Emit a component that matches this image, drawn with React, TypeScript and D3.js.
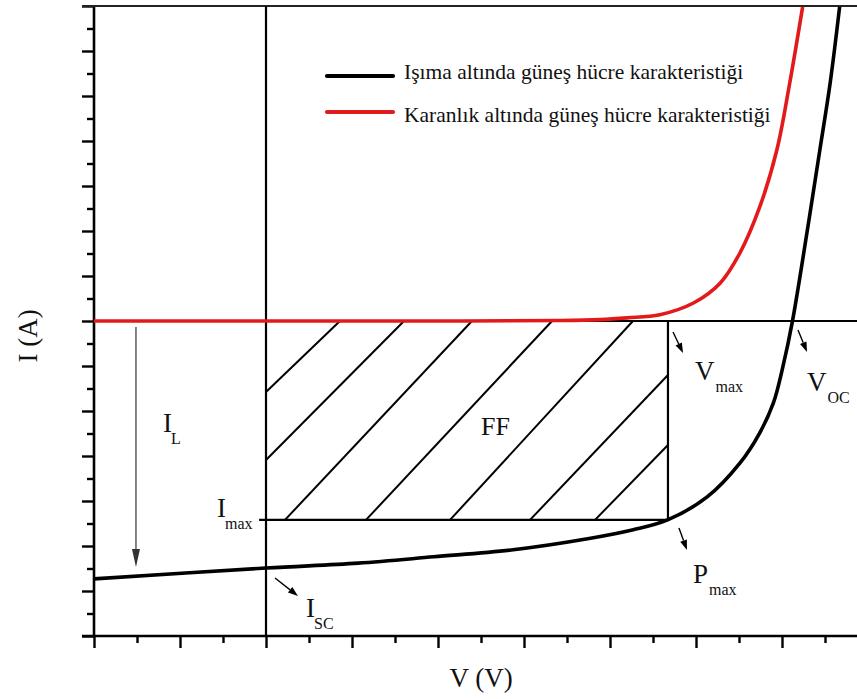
import React, { useEffect, useRef } from 'react'
import * as d3 from 'd3'

// tick positions (arbitrary units, the original axes carry no numbers)
const vMajor = [-2, -1, 0, 1, 2, 3, 4, 5, 6, 7]
const vMinor = [-1.5, -0.5, 0.5, 1.5, 2.5, 3.5, 4.5, 5.5, 6.5]
const iMajor = [-7, -6, -5, -4, -3, -2, -1, 0, 1, 2, 3, 4, 5, 6, 7]
const iMinor = [-6.5, -5.5, -4.5, -3.5, -2.5, -1.5, -0.5, 0.5, 1.5, 2.5, 3.5, 4.5, 5.5, 6.5]

// illuminated cell I-V curve
const lightV = [-2, 0, 1.07, 1.95, 2.85, 3.74, 4.27, 4.67, 5.13, 5.51, 5.74, 5.9, 6.01, 6.12, 6.29, 6.44, 6.56, 6.67]
const lightI = [-5.73, -5.49, -5.38, -5.24, -5.09, -4.84, -4.64, -4.42, -3.91, -3.16, -2.49, -1.82, -1.02, -0.02, 1.96, 3.8, 5.29, 6.98]

// dark cell I-V curve
const darkV = [-2, 0, 2, 3.42, 3.88, 4.2, 4.58, 4.97, 5.28, 5.51, 5.74, 5.94, 6.09, 6.24]
const darkI = [0, 0, 0, 0.01, 0.03, 0.07, 0.14, 0.4, 0.84, 1.51, 2.53, 3.8, 5.29, 6.98]

// maximum power point
const vMax = 4.674
const iMax = -4.42

// hatch lines inside the FF rectangle
const hatchFrom = [[0, -1.578], [0, -3.09], [0.221, -4.42], [1.163, -4.42], [2.14, -4.42], [3.07, -4.42], [3.826, -4.42]]
const hatchTo = [[0.86, 0], [1.605, 0], [2.395, 0], [3.326, 0], [4.267, 0], [4.674, -1.2], [4.674, -2.756]]

// annotation labels: main letter, subscript, position
const labelMain = ['I', 'I', 'V', 'V', 'P', 'I']
const labelSub = ['L', 'max', 'max', 'OC', 'max', 'SC']
const labelPos = [[-1.198, -2.467], [-0.57, -4.356], [4.988, -1.311], [6.291, -1.556], [4.965, -5.822], [0.465, -6.578]]

// small arrows pointing at the characteristic points
const arrowFrom = [[0.105, -5.711], [4.733, -0.244], [6.186, -0.2], [4.802, -4.6]]
const arrowTo = [[0.372, -6.111], [4.849, -0.711], [6.291, -0.689], [4.895, -5.089]]

const legendNames = ['Işıma altında güneş hücre karakteristiği', 'Karanlık altında güneş hücre karakteristiği']
const legendColors = ['#000000', '#e31a1c']

const W = 857
const H = 699
const FONT = 'Liberation Serif, DejaVu Serif, serif'

export default function App() {
    const svgRef = useRef<SVGSVGElement>(null)

    useEffect(() => {
        const svg = d3.select(svgRef.current)
        svg.selectAll('*').remove()

        const x = d3.scaleLinear().domain([-2, 7]).range([94, 868])
        const y = d3.scaleLinear().domain([-7, 7]).range([636, 6])

        const ticks = (g: any, axis: any, size: number) => {
            g.call(axis.tickSize(size).tickSizeOuter(0).tickFormat(() => ''))
            g.select('.domain').remove()
            g.selectAll('line').attr('stroke', '#000').attr('stroke-width', 2.4)
        }

        const yAx = svg.append('g').attr('transform', `translate(${x(-2)},0)`)
        ticks(yAx.append('g'), d3.axisLeft(y).tickValues(iMajor), 12)
        ticks(yAx.append('g'), d3.axisLeft(y).tickValues(iMinor), 7)
        const xAx = svg.append('g').attr('transform', `translate(0,${y(-7)})`)
        ticks(xAx.append('g'), d3.axisBottom(x).tickValues(vMajor), 12)
        ticks(xAx.append('g'), d3.axisBottom(x).tickValues(vMinor), 7)

        const line = (x1: number, y1: number, x2: number, y2: number, sw: number, color = '#000') =>
            svg.append('line')
                .attr('x1', x1).attr('y1', y1).attr('x2', x2).attr('y2', y2)
                .attr('stroke', color).attr('stroke-width', sw)

        // frame and zero lines
        line(x(-2), y(7), x(-2), y(-7), 2.6)
        line(x(-2) - 12, y(-7), W, y(-7), 2.6)
        line(x(-2) - 12, y(7), W, y(7), 2.2, '#222')
        line(x(0), y(7), x(0), y(-7), 2.2)
        line(x(-2), y(0), W, y(0), 2)

        // FF rectangle + hatching
        hatchFrom.forEach((p, i) => line(x(p[0]), y(p[1]), x(hatchTo[i][0]), y(hatchTo[i][1]), 2))
        line(x(vMax), y(0), x(vMax), y(iMax), 2.2)
        line(x(-0.08), y(iMax), x(vMax), y(iMax), 2.4)

        const curve = d3.line<number[]>()
            .x((v) => x(v[0]))
            .y((v) => y(v[1]))
            .curve(d3.curveCatmullRom.alpha(0.5))

        svg.append('path')
            .attr('d', curve(darkV.map((v, i) => [v, darkI[i]])))
            .attr('fill', 'none').attr('stroke', legendColors[1]).attr('stroke-width', 3.6)
        svg.append('path')
            .attr('d', curve(lightV.map((v, i) => [v, lightI[i]])))
            .attr('fill', 'none').attr('stroke', legendColors[0]).attr('stroke-width', 3.6)

        const arrow = (x1: number, y1: number, x2: number, y2: number, len: number, half: number, sw: number, color: string) => {
            const a = Math.atan2(y2 - y1, x2 - x1)
            const bx = x2 - len * Math.cos(a)
            const by = y2 - len * Math.sin(a)
            line(x1, y1, bx, by, sw, color)
            const px = -Math.sin(a) * half
            const py = Math.cos(a) * half
            svg.append('polygon')
                .attr('points', `${x2},${y2} ${bx + px},${by + py} ${bx - px},${by - py}`)
                .attr('fill', color)
        }

        // I_L arrow
        arrow(x(-1.512), y(-0.133), x(-1.512), y(-5.467), 18, 4, 1.2, '#333')
        arrowFrom.forEach((p, i) =>
            arrow(x(p[0]), y(p[1]), x(arrowTo[i][0]), y(arrowTo[i][1]), 10, 3.5, 1.4, '#000'))

        // labels
        labelMain.forEach((m, i) => {
            const t = svg.append('text')
                .attr('x', x(labelPos[i][0])).attr('y', y(labelPos[i][1]))
                .style('font-family', FONT).attr('font-size', 27).attr('fill', '#111')
            t.append('tspan').text(m)
            t.append('tspan').attr('font-size', 16).attr('dy', 12).attr('dx', m === 'I' ? -1 : 1).text(labelSub[i])
        })
        svg.append('text')
            .attr('x', x(2.5)).attr('y', y(-2.533))
            .style('font-family', FONT).attr('font-size', 26).attr('fill', '#111')
            .text('FF')

        // legend
        legendNames.forEach((name, i) => {
            const ly = 76 + i * 36
            line(327, ly, 393, ly, 4.2, legendColors[i]).attr('stroke-linecap', 'round')
            svg.append('text')
                .attr('x', 404).attr('y', ly + 3 + i * 7)
                .style('font-family', FONT).attr('font-size', 21.5).attr('fill', '#111')
                .text(name)
        })

        // axis titles
        svg.append('text')
            .attr('x', 481).attr('y', 687)
            .attr('text-anchor', 'middle')
            .style('font-family', FONT).attr('font-size', 27).attr('fill', '#111')
            .text('V (V)')
        svg.append('text')
            .attr('transform', `translate(37,${y(-0.33)}) rotate(-90)`)
            .attr('text-anchor', 'middle')
            .style('font-family', FONT).attr('font-size', 27).attr('fill', '#111')
            .text('I (A)')
    }, [])

    return (
        <svg
            ref={svgRef}
            width={W}
            height={H}
            style={{ position: 'absolute', left: 0, top: 0, background: '#fff', overflow: 'hidden' }}
        />
    )
}
